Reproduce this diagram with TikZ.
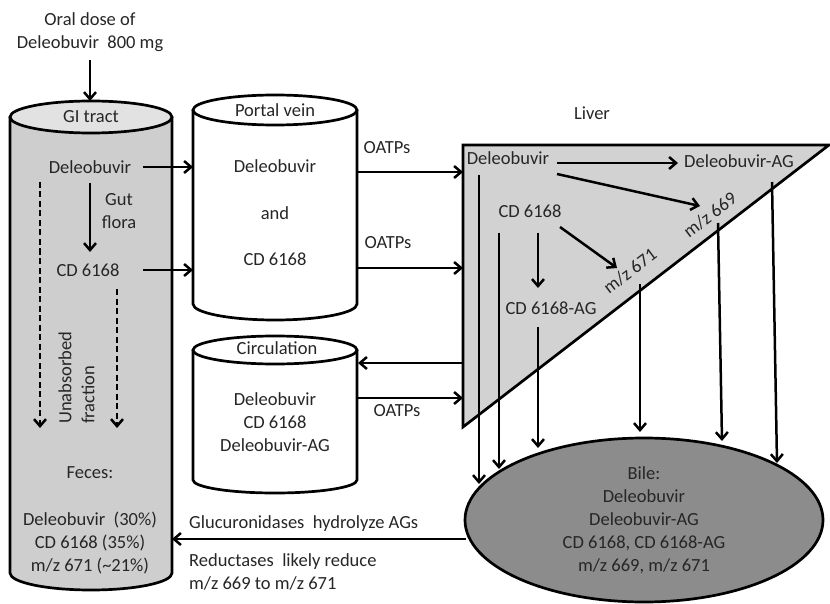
\documentclass[tikz,border=0pt]{standalone}
\usepackage{fontspec}
\setmainfont{Carlito}
\usetikzlibrary{arrows.meta,shapes.geometric}
\definecolor{txt}{HTML}{262626}
\definecolor{gibody}{HTML}{CECECE}
\definecolor{gitop}{HTML}{E2E2E2}
\definecolor{liverfill}{HTML}{D2D2D2}
\definecolor{bilefill}{HTML}{8C8C8C}
\tikzset{
  lbl/.style={text=txt,font=\fontsize{18.5}{23}\selectfont,inner sep=1pt,align=center},
  shapeline/.style={draw=black,line width=2.7pt},
  arr/.style={draw=black,line width=2.5pt,-{Straight Barb[length=7pt,width=12pt]}},
  darr/.style={arr,dash pattern=on 6pt off 3.5pt},
}
% cylinder: cx, rx, top centre y, top ry, bottom centre y, bottom ry, body fill, top fill
\newcommand\drawcylinder[8]{%
  \path[fill=#7] (#1-#2,#3) -- (#1-#2,#5)
     arc[start angle=180,end angle=360,x radius=#2pt,y radius=#6pt]
     -- (#1+#2,#3) -- cycle;
  \draw[shapeline] (#1-#2,#3) -- (#1-#2,#5)
     arc[start angle=180,end angle=360,x radius=#2pt,y radius=#6pt]
     -- (#1+#2,#3);
  \draw[shapeline,fill=#8] (#1,#3) ellipse[x radius=#2pt,y radius=#4pt];
}
\begin{document}
\begin{tikzpicture}[x=1pt,y=-1pt]
\useasboundingbox (0,0) rectangle (830,604);

% ---------- cylinders ----------
\drawcylinder{91}{81}{117}{16}{573}{17}{gibody}{gitop}
\drawcylinder{275}{82}{110}{15}{304}{16}{white}{white}
\drawcylinder{275}{82}{350}{14}{480}{13}{white}{white}

% ---------- liver triangle ----------
\coordinate (lvTL) at (463,145);
\coordinate (lvTR) at (829,145);
\coordinate (lvBL) at (463,427);
\draw[shapeline,fill=liverfill,line join=miter] (lvTL) -- (lvTR) -- (lvBL) -- cycle;

% ---------- bile ----------
\node[ellipse,shapeline,fill=bilefill,minimum width=358pt,minimum height=164pt,
      lbl,inner sep=0pt] (bile) at (644,520)
  {Bile:\\Deleobuvir\\Deleobuvir-AG\\CD 6168, CD 6168-AG\\m/z 669, m/z 671};

% ---------- texts ----------
\node[lbl] (oral) at (90,32) {Oral dose of\\Deleobuvir\ \ 800 mg};
\coordinate (gitopc) at (90,101);
\node[lbl] (gilbl) at (91,117) {GI tract};
\node[lbl] (giD) at (90,167) {Deleobuvir};
\node[lbl] (gut) at (119,211) {Gut\\flora};
\node[lbl] (giC) at (88,270) {CD 6168};
\node[lbl,rotate=90,anchor=west] (unab) at (65,425) {Unabsorbed};
\node[lbl,rotate=90,anchor=west] (frac) at (88,425) {fraction};
\node[lbl] (feces) at (90,473) {Feces:};
\node[lbl] (fecesl) at (90,543) {Deleobuvir\ \ (30\%)\\CD 6168 (35\%)\\m/z 671 (\textasciitilde21\%)};

\node[lbl] (pvlbl) at (275,110) {Portal vein};
\node[lbl] (pvD) at (275,166) {Deleobuvir};
\node[lbl] (pvand) at (275,213) {and};
\node[lbl] (pvC) at (275,259) {CD 6168};
\coordinate (pvleft) at (193,0);

\node[lbl] (circlbl) at (277,348) {Circulation};
\node[lbl] (circl) at (275,422) {Deleobuvir\\CD 6168\\Deleobuvir-AG};

\node[lbl] (oatp1) at (387,148) {OATPs};
\node[lbl] (oatp2) at (388,243) {OATPs};
\node[lbl] (oatp3) at (397,411) {OATPs};

\node[lbl] (liver) at (592,113) {Liver};
\node[lbl] (lvD) at (508,158) {Deleobuvir};
\node[lbl] (lvDAG) at (739,161) {Deleobuvir-AG};
\node[lbl] (lvC) at (530,211) {CD 6168};
\node[lbl] (lvCAG) at (551,308) {CD 6168-AG};
\node[lbl,rotate=37] (m669) at (710,215) {m/z 669};
\node[lbl,rotate=37] (m671) at (630,271) {m/z 671};

\node[lbl,anchor=west] (gluc) at (188,524) {Glucuronidases\ \ hydrolyze AGs};
\node[lbl,anchor=west,align=left] (reduc) at (188,572) {Reductases\ \ likely reduce\\m/z 669 to m/z 671};

% ---------- GI connectors ----------
\coordinate (oralS) at (90,60);
\draw[arr] (oralS) -- (gitopc);
\draw[arr] (143,167) coordinate (a1) -- (a1 -| pvleft);
\draw[arr] (143,270) coordinate (a2) -- (a2 -| pvleft);
\coordinate (gfS) at (90,183);
\coordinate (gfE) at (90,252);
\draw[arr] (gfS) -- (gfE);
\coordinate (d1S) at (40,182);
\coordinate (d1E) at (40,428);
\coordinate (d2S) at (117,289);
\coordinate (d2E) at (117,428);
\draw[darr] (d1S) -- (d1E);
\draw[darr] (d2S) -- (d2E);

% ---------- portal / circulation to liver ----------
\coordinate (o1) at (357,172);
\coordinate (o2) at (357,268);
\draw[arr] (o1) -- (o1 -| lvTL);
\draw[arr] (o2) -- (o2 -| lvTL);
\coordinate (c1) at (463,363);
\coordinate (c1e) at (358,363);
\draw[arr] (c1) -- (c1e);
\coordinate (c2) at (358,398);
\draw[arr] (c2) -- (c2 -| lvTL);

% ---------- inside liver ----------
\coordinate (e1s) at (557,163); \coordinate (e1e) at (678,163);
\draw[arr] (e1s) -- (e1e);
\coordinate (e2s) at (557,174); \coordinate (e2e) at (700,206);
\draw[arr] (e2s) -- (e2e);
\coordinate (e3s) at (538,233); \coordinate (e3e) at (538,288);
\draw[arr] (e3s) -- (e3e);
\coordinate (e4s) at (560,227); \coordinate (e4e) at (617,268);
\draw[arr] (e4s) -- (e4e);

% ---------- to bile ----------
\coordinate (v1s) at (479,175); \coordinate (v1e) at (479,484);
\coordinate (v2s) at (499,233); \coordinate (v2e) at (499,469);
\coordinate (v3s) at (538,327); \coordinate (v3e) at (538,448);
\coordinate (v4s) at (640,284); \coordinate (v4e) at (640,432);
\coordinate (v5s) at (718,223); \coordinate (v5e) at (722,441);
\coordinate (v6s) at (772,182); \coordinate (v6e) at (777,463);
\foreach \i in {1,...,6} \draw[arr] (v\i s) -- (v\i e);

% ---------- bile to feces ----------
\coordinate (bS) at (466,539);
\coordinate (bE) at (172,539);
\draw[arr] (bS) -- (bE);
\end{tikzpicture}
\end{document}
